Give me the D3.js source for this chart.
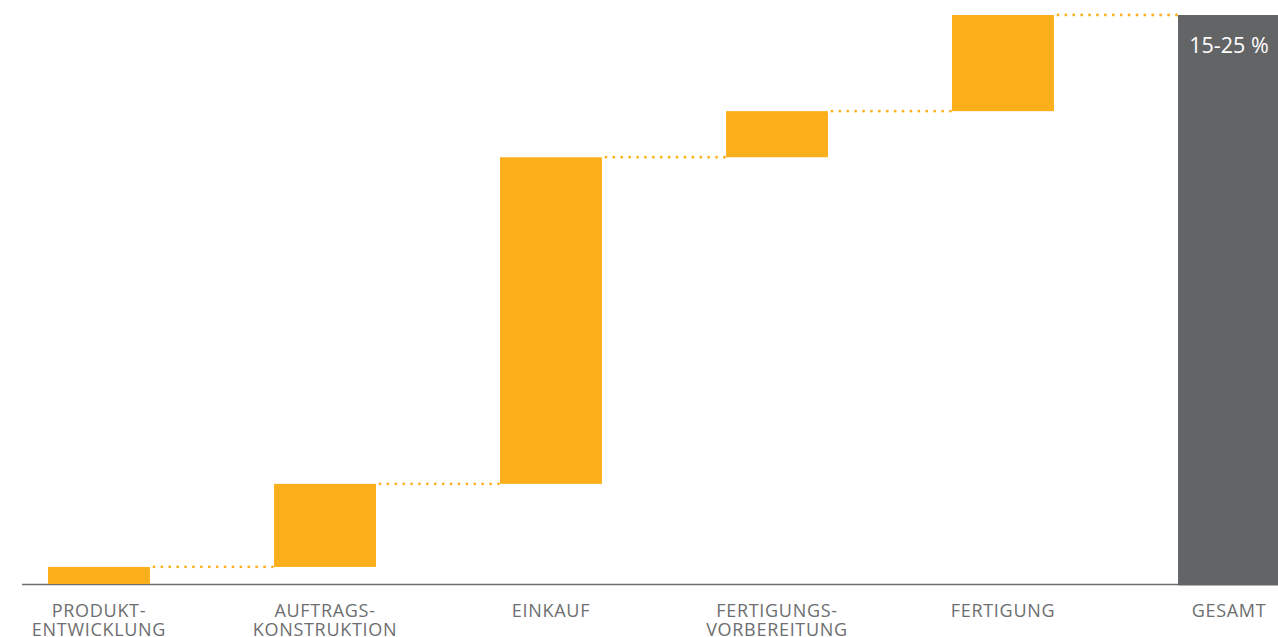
<!DOCTYPE html>
<html>
<head>
<meta charset="utf-8">
<script src="https://cdn.jsdelivr.net/npm/d3@7"></script>
<style>
	html, body { margin: 0; padding: 0; background: #fff; }
	svg { display: block; }
</style>
</head>
<body>
<svg id="chart" width="1278" height="637"></svg>
<script>

// data
const categories  = ["PRODUKTENTWICKLUNG", "AUFTRAGSKONSTRUKTION", "EINKAUF", "FERTIGUNGSVORBEREITUNG", "FERTIGUNG", "GESAMT"]
const labelLines  = [["PRODUKT-", "ENTWICKLUNG"], ["AUFTRAGS-", "KONSTRUKTION"], ["EINKAUF"], ["FERTIGUNGS-", "VORBEREITUNG"], ["FERTIGUNG"], ["GESAMT"]]
const steps       = [3, 14.6, 57.4, 8.1, 16.9]   // share of the total, per stage
const totalLabel  = "15-25 %"

const orange = "#fcaf1a"
const grey   = "#636466"
const axisGrey = "#6d6e70"

const svg = d3.select("#chart")

const x = d3.scaleBand()
	.domain(categories)
	.range([-14, 1342])
	.paddingInner(0.549)
	.paddingOuter(0.2745)

const total = d3.sum(steps)
const y = d3.scaleLinear().domain([0, total]).range([584, 15])

// build waterfall pieces
let acc = 0
const pieces = steps.map(function(v, i){
	const p = {name: categories[i], start: acc, end: acc + v}
	acc += v
	return p
})
pieces.push({name: categories[5], start: 0, end: total, total: true})

// connectors (drawn first so bars sit over them)
svg.append("g").selectAll("line")
	.data(pieces.slice(0, -1))
	.join("line")
	.attr("x1", function(d){ return x(d.name) + x.bandwidth() + 4 })
	.attr("x2", function(d, i){ return x(pieces[i+1].name) - 1 })
	.attr("y1", function(d){ return y(d.end) })
	.attr("y2", function(d){ return y(d.end) })
	.attr("stroke", orange)
	.attr("stroke-width", 2.8)
	.attr("stroke-linecap", "round")
	.attr("stroke-dasharray", "0 7.9")

// axis baseline
svg.append("line")
	.attr("x1", 22).attr("x2", x(categories[5]))
	.attr("y1", y(0) + 0.5).attr("y2", y(0) + 0.5)
	.attr("stroke", axisGrey)
	.attr("stroke-width", 1.5)

// bars
svg.append("g").selectAll("rect")
	.data(pieces)
	.join("rect")
	.attr("x", function(d){ return x(d.name) })
	.attr("width", function(d){ return d.total ? 1278 - x(d.name) : x.bandwidth() })
	.attr("y", function(d){ return y(d.end) })
	.attr("height", function(d){ return y(d.start) - y(d.end) + (d.total ? 1.5 : 0) })
	.attr("fill", function(d){ return d.total ? grey : orange })

// total label
svg.append("text")
	.attr("x", x(categories[5]) + x.bandwidth() / 2)
	.attr("y", 53)
	.attr("text-anchor", "middle")
	.attr("fill", "#fff")
	.style("font-family", "'Open Sans', sans-serif")
	.style("font-size", "21.5px")
	.text(totalLabel)

// category labels
const lab = svg.append("g").selectAll("text")
	.data(categories)
	.join("text")
	.attr("x", function(d){ return x(d) + x.bandwidth() / 2 })
	.attr("y", 617)
	.attr("text-anchor", "middle")
	.attr("fill", axisGrey)
	.style("font-family", "'Open Sans', sans-serif")
	.style("font-size", "18px")
	.style("letter-spacing", "0.7px")

lab.selectAll("tspan")
	.data(function(d, i){ return labelLines[i] })
	.join("tspan")
	.attr("x", function(){ return this.parentNode.getAttribute("x") })
	.attr("dy", function(d, i){ return i === 0 ? 0 : 19 })
	.text(function(d){ return d })

</script>
</body>
</html>
